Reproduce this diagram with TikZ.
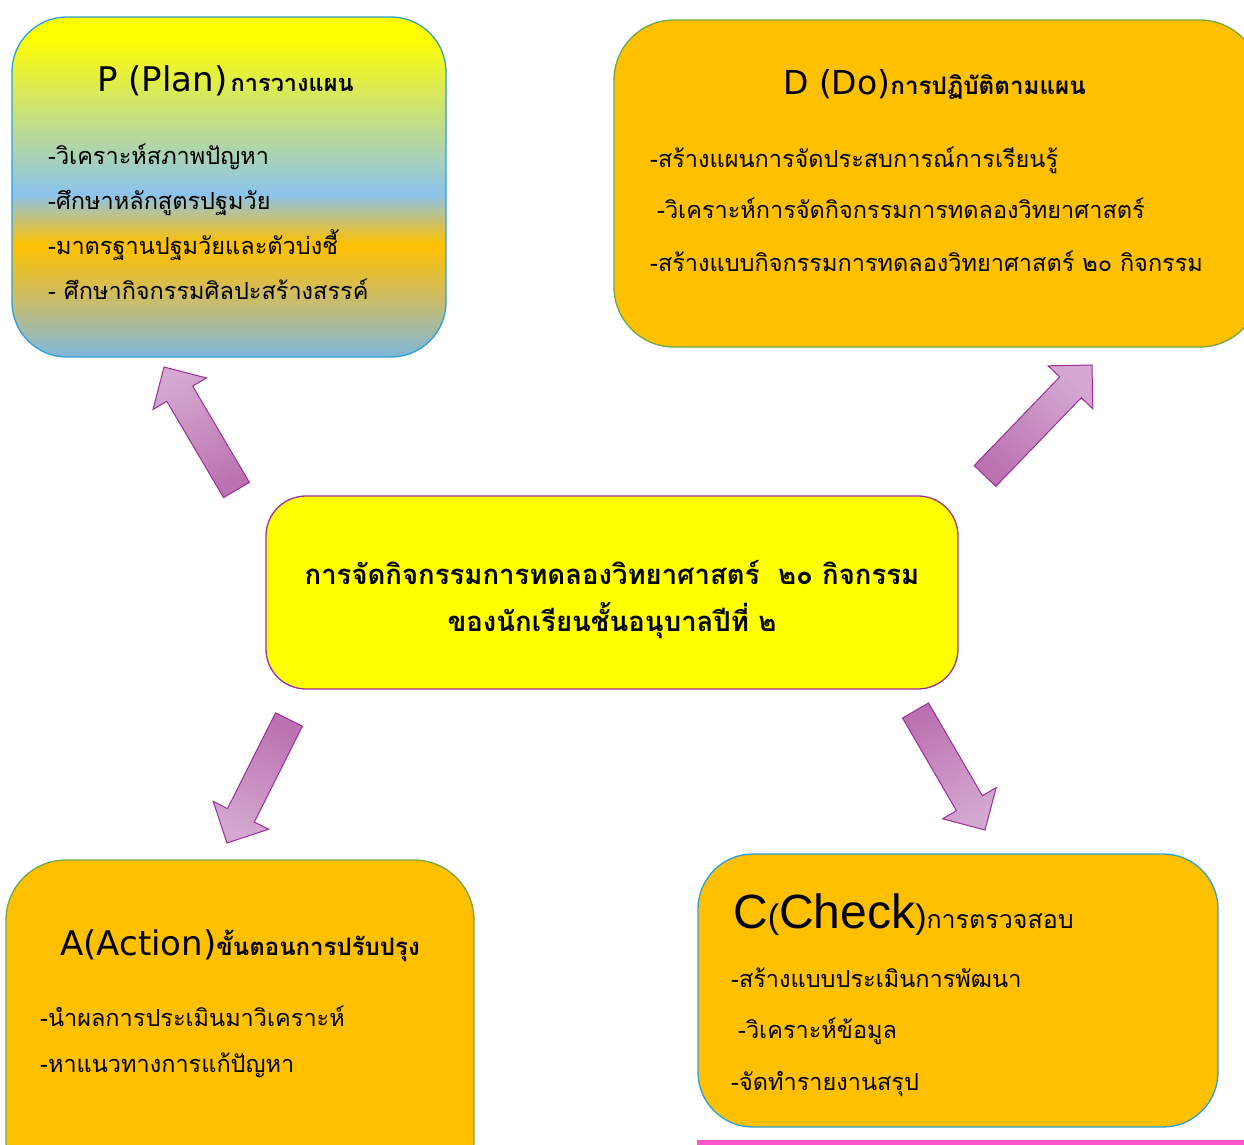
\documentclass[tikz,border=0pt]{standalone}
\usepackage{fontspec}
\setmainfont[Script=Thai]{Loma}
\newfontfamily\thaifont[Script=Thai]{Loma}
\newfontfamily\latinsans{DejaVu Sans}
\newfontfamily\arialsans{Liberation Sans}
\usetikzlibrary{calc}

% palette
\definecolor{boxGold}{HTML}{FFC000}
\definecolor{hubYellow}{HTML}{FFFF00}
\definecolor{edgeGreen}{HTML}{6FAA46}
\definecolor{edgeBlue}{HTML}{2E9FD6}
\definecolor{edgePurple}{HTML}{A0309A}
\definecolor{arrowDark}{HTML}{BB72B0}
\definecolor{arrowLight}{HTML}{D4A8D0}
\definecolor{arrowEdge}{HTML}{9C2D9C}
\definecolor{pinkBar}{HTML}{FF55CC}
% planning box gradient stops
\definecolor{pYellow}{HTML}{FFFF00}
\definecolor{pLime}{HTML}{D4E664}
\definecolor{pSky}{HTML}{8CC4EC}
\definecolor{pOrange}{HTML}{FFC000}
\definecolor{pMid}{HTML}{C8BC70}
\definecolor{pBlue}{HTML}{7EB8DC}

\pgfdeclareverticalshading{planshade}{100bp}{%
  color(0bp)=(pBlue); color(25bp)=(pBlue); color(33bp)=(pMid);
  color(41.5bp)=(pOrange); color(49bp)=(pSky); color(63bp)=(pLime);
  color(72bp)=(pYellow); color(100bp)=(pYellow)}

\tikzset{
  box/.style={rectangle, rounded corners=55pt, line width=1.3pt, inner sep=0pt},
  txt/.style={inner sep=0pt, font=\thaifont\fontsize{23.5}{28}\selectfont},
  hubtxt/.style={inner sep=0pt, font=\thaifont\bfseries\fontsize{27.5}{32}\selectfont},
  blockarrow/.style={draw=arrowEdge, line width=1pt, line join=miter,
    top color=arrowLight, bottom color=arrowDark},
}

% wide block arrow from a tail coordinate to a tip coordinate
\newcommand\pdcaarrow[3]{%
  \path ($(#3)!31pt!(#2)$) coordinate (#2-base);
  \path[blockarrow, shading angle=#1]
    ($(#2)!15pt!90:(#3)$) -- ($(#2-base)!15pt!90:(#3)$)
    -- ($(#2-base)!31pt!90:(#3)$) -- (#3)
    -- ($(#2-base)!31pt!-90:(#3)$) -- ($(#2-base)!15pt!-90:(#3)$)
    -- ($(#2)!15pt!-90:(#3)$) -- cycle;}

\begin{document}
\begin{tikzpicture}[x=1pt, y=-1pt]
\useasboundingbox[fill=white] (0,0) rectangle (1244,1145);

% ---- P : planning
\node[box, draw=edgeBlue, shade, shading=planshade,
      minimum width=434pt, minimum height=340pt] (plan) at (229,187) {};
\node[anchor=base west, inner sep=0pt] (plantitle) at (97,92)
  {{\latinsans\fontsize{34}{40}\selectfont P (Plan)} {\thaifont\bfseries\fontsize{23.5}{28}\selectfont การวางแผน}};
\node[txt, anchor=base west] (p1) at (48,164) {-วิเคราะห์สภาพปัญหา};
\node[txt, anchor=base west] (p2) at (48,209) {-ศึกษาหลักสูตรปฐมวัย};
\node[txt, anchor=base west] (p3) at (48,254) {-มาตรฐานปฐมวัยและตัวบ่งชี้};
\node[txt, anchor=base west] (p4) at (48,299) {- ศึกษากิจกรรมศิลปะสร้างสรรค์};

% ---- D : doing
\node[box, draw=edgeGreen, fill=boxGold, rounded corners=60pt,
      minimum width=646pt, minimum height=327pt] (do) at (937,183.5) {};
\node[anchor=base west, inner sep=0pt] (dotitle) at (783,95)
  {{\latinsans\fontsize{33}{40}\selectfont D (Do)}{\thaifont\bfseries\fontsize{24.2}{29}\selectfont การปฏิบัติตามแผน}};
\node[txt, anchor=base west] (d1) at (650,167) {-สร้างแผนการจัดประสบการณ์การเรียนรู้};
\node[txt, anchor=base west] (d2) at (657,218) {-วิเคราะห์การจัดกิจกรรมการทดลองวิทยาศาสตร์};
\node[txt, anchor=base west] (d3) at (650,271) {-สร้างแบบกิจกรรมการทดลองวิทยาศาสตร์ ๒๐ กิจกรรม};

% ---- centre topic
\node[box, draw=edgePurple, fill=hubYellow, rounded corners=40pt,
      minimum width=692pt, minimum height=193pt] (hub) at (612,592.5) {};
\node[hubtxt, anchor=base] (hub1) at (612,584) {การจัดกิจกรรมการทดลองวิทยาศาสตร์~~๒๐ กิจกรรม};
\node[hubtxt, anchor=base] (hub2) at (612,631) {ของนักเรียนชั้นอนุบาลปีที่ ๒};

% ---- A : action
\node[box, draw=edgeGreen, fill=boxGold, rounded corners=60pt,
      minimum width=468pt, minimum height=340pt] (act) at (240,1030) {};
\node[anchor=base west, inner sep=0pt] (acttitle) at (60,955)
  {{\latinsans\fontsize{34}{40}\selectfont A(Action)}{\thaifont\bfseries\fontsize{24}{29}\selectfont ขั้นตอนการปรับปรุง}};
\node[txt, anchor=base west] (a1) at (40,1026) {-นำผลการประเมินมาวิเคราะห์};
\node[txt, anchor=base west] (a2) at (40,1072) {-หาแนวทางการแก้ปัญหา};

% ---- C : check
\node[box, draw=edgeBlue, fill=boxGold, rounded corners=55pt,
      minimum width=520pt, minimum height=273pt] (chk) at (958,990.5) {};
\node[anchor=base west, inner sep=0pt] (chktitle) at (733,928)
  {{\arialsans\fontsize{48}{56}\selectfont C{\fontsize{34}{40}\selectfont(}Check{\fontsize{34}{40}\selectfont)}}{\thaifont\fontsize{25}{30}\selectfont การตรวจสอบ}};
\node[txt, anchor=base west] (c1) at (731,987) {-สร้างแบบประเมินการพัฒนา};
\node[txt, anchor=base west] (c2) at (738,1038) {-วิเคราะห์ข้อมูล};
\node[txt, anchor=base west] (c3) at (731,1090) {-จัดทำรายงานสรุป};

% ---- block arrows from the centre topic towards each stage
\coordinate (tailP) at (236.5,490);  \coordinate (tipP) at (164,367);
\coordinate (tailD) at (985,476);    \coordinate (tipD) at (1092,365);
\coordinate (tailA) at (289,719.5);  \coordinate (tipA) at (227,843);
\coordinate (tailC) at (915.5,710.5);\coordinate (tipC) at (985,830);
\pdcaarrow{30}{tailP}{tipP}
\pdcaarrow{-44}{tailD}{tipD}
\pdcaarrow{153}{tailA}{tipA}
\pdcaarrow{-150}{tailC}{tipC}

% ---- pink rule along the lower edge
\draw[pinkBar, line width=5pt] (697,1142.5) -- (1244,1142.5);
\end{tikzpicture}
\end{document}
